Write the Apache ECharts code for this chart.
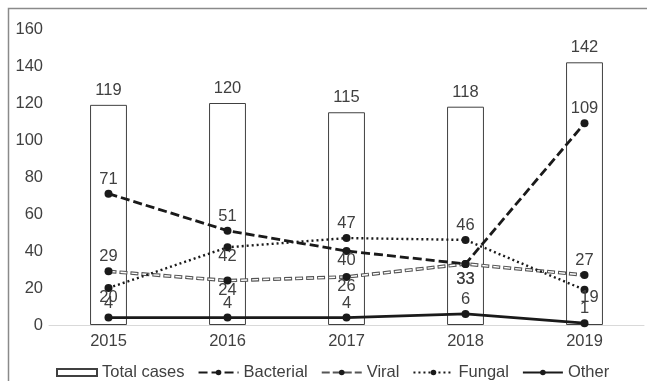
<!DOCTYPE html>
<html><head><meta charset="utf-8">
<script src="https://cdn.jsdelivr.net/npm/echarts@6/dist/echarts.min.js"></script>
<style>html,body{margin:0;padding:0;background:#fff}#c{width:647px;height:381px}</style>
</head><body><div id="c"></div>
<script>
var categories = ['2015', '2016', '2017', '2018', '2019'];
var totalCases = [119, 120, 115, 118, 142];
var bacterial = [71, 51, 40, 33, 109];
var viral = [29, 24, 26, 33, 27];
var fungal = [20, 42, 47, 46, 19];
var other = [4, 4, 4, 6, 1];
var yTicks = { min: 0, max: 160, interval: 20 };

// label placement per point (top / bottom)
var bacterialPos = ['top', 'top', 'bottom', 'bottom', 'top'];
var viralPos = ['top', 'bottom', 'bottom', 'bottom', 'top'];
var fungalPos = ['bottom', 'bottom', 'top', 'top', 'bottom'];
var otherPos = ['top', 'top', 'top', 'top', 'top'];

var TXT = '#404040';
var FONT = 'Liberation Sans, Arial, sans-serif';
var FS = 16.5;

function withLabels(vals, pos, extra) {
  return vals.map(function (v, i) {
    var p = pos[i];
    var lab = { position: p, distance: p === 'top' ? 2 : -3 };
    if (extra && extra[i]) Object.assign(lab, extra[i]);
    return { value: v, label: lab };
  });
}

var chart = echarts.init(document.getElementById('c'), null, { renderer: 'canvas' });
var lineLabel = { show: true, color: TXT, fontSize: FS, fontFamily: FONT };
var sym = { symbol: 'circle', symbolSize: 8, itemStyle: { color: '#1a1a1a' } };

chart.setOption({
  animation: false,
  backgroundColor: '#fff',
  textStyle: { fontFamily: FONT },
  graphic: [{
    type: 'rect', x: 0, y: 0, silent: true, z: -1,
    shape: { x: 8.5, y: 8.5, width: 800, height: 500 },
    style: { fill: 'none', stroke: '#8a8a8a', lineWidth: 1.5 }
  }],
  grid: { left: 49, right: 3, top: 29, bottom: 56 },
  legend: {
    left: 51, top: 359, itemWidth: 40, itemHeight: 7, itemGap: 13,
    textStyle: { color: TXT, fontSize: FS, fontFamily: FONT },
    data: [
      { name: 'Total cases', icon: 'rect' },
      'Bacterial', 'Viral', 'Fungal', 'Other'
    ]
  },
  xAxis: {
    type: 'category', data: categories,
    axisLine: { lineStyle: { color: '#d9d9d9', width: 1 } },
    axisTick: { show: false },
    axisLabel: { color: TXT, fontSize: FS, fontFamily: FONT, margin: 8 }
  },
  yAxis: {
    type: 'value', min: yTicks.min, max: yTicks.max, interval: yTicks.interval,
    splitLine: { show: false }, axisLine: { show: false }, axisTick: { show: false },
    axisLabel: { color: TXT, fontSize: FS, fontFamily: FONT, margin: 6 }
  },
  series: [
    {
      name: 'Total cases', type: 'bar', data: totalCases, barWidth: '31%',
      itemStyle: { color: '#fff', borderColor: '#404040', borderWidth: 1 },
      label: { show: true, position: 'top', distance: 6, color: TXT, fontSize: FS, fontFamily: FONT }
    },
    Object.assign({
      name: 'Bacterial', type: 'line', z: 5,
      data: withLabels(bacterial, bacterialPos, { 3: { distance: 3 } }),
      lineStyle: { color: '#1a1a1a', width: 2.8, type: [9, 4] },
      label: lineLabel
    }, sym),
    Object.assign({
      name: 'Viral', type: 'line', z: 4,
      data: withLabels(viral, viralPos, { 3: { distance: 3 } }),
      lineStyle: { color: '#555', width: 3.6, type: [8, 3] },
      label: lineLabel
    }, sym),
    {
      name: 'Viral-inner', type: 'line', z: 4, data: viral, symbol: 'none', silent: true,
      lineStyle: { color: '#fff', width: 1.4, type: [6, 5], dashOffset: -1 },
      itemStyle: { color: '#fff' }, legendHoverLink: false
    },
    Object.assign({
      name: 'Fungal', type: 'line', z: 5,
      data: withLabels(fungal, fungalPos, { 4: { offset: [5, -2] } }),
      lineStyle: { color: '#1a1a1a', width: 2.4, type: [2, 3] },
      label: lineLabel
    }, sym),
    Object.assign({
      name: 'Other', type: 'line', z: 5,
      data: withLabels(other, otherPos),
      lineStyle: { color: '#1a1a1a', width: 2.6, type: 'solid' },
      label: lineLabel
    }, sym)
  ]
});
</script></body></html>
